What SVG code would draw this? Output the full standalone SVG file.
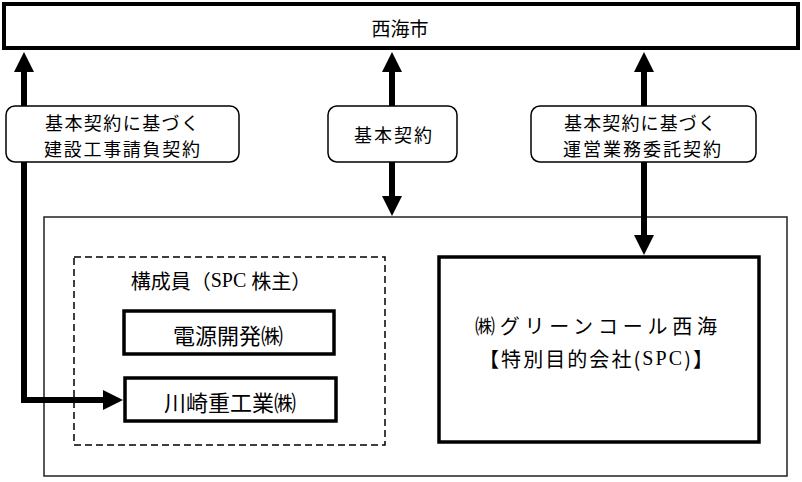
<svg xmlns="http://www.w3.org/2000/svg" width="802" height="482" viewBox="0 0 802 482">
<style>
text{font-family:"Noto Sans CJK JP",sans-serif;fill:#000;text-anchor:middle;dominant-baseline:central}
.thick{fill:#fff;stroke:#000;stroke-width:4}
.mid{fill:#fff;stroke:#000;stroke-width:3.5}
.label{fill:#fff;stroke:#000;stroke-width:1.5}
.conn{fill:none;stroke:#000;stroke-width:6;stroke-linejoin:miter}
.serif{font-family:"Liberation Serif",serif}
.lt{font-size:18px}
</style>
<defs>
<marker id="ah" viewBox="0 0 20 20" refX="0" refY="10" markerWidth="20" markerHeight="20" markerUnits="userSpaceOnUse" orient="auto-start-reverse">
<path d="M0,0 L20,10 L0,20 z" fill="#000"/>
</marker>
</defs>

<g id="outer">
<rect x="44" y="217" width="743" height="259" fill="#fff" stroke="#222" stroke-width="1.5"/>
</g>

<g id="connectors">
<path class="conn" d="M24,72 L24,400 L103,400" marker-start="url(#ah)" marker-end="url(#ah)"/>
<path class="conn" d="M392,72 L392,196" marker-start="url(#ah)" marker-end="url(#ah)"/>
<path class="conn" d="M644,72 L644,235" marker-start="url(#ah)" marker-end="url(#ah)"/>
</g>

<g id="saikai">
<rect class="thick" x="4" y="4" width="794" height="44"/>
<text x="400" y="27" font-size="19">西海市</text>
</g>

<g id="label-construction">
<rect class="label" x="6" y="106" width="233" height="56" rx="9"/>
<text class="lt" x="122" y="122" textLength="154">基本契約に基づく</text>
<text class="lt" x="122" y="148" textLength="156">建設工事請負契約</text>
</g>

<g id="label-basic">
<rect class="label" x="328" y="106" width="129" height="56" rx="9"/>
<text class="lt" x="393" y="134" textLength="78">基本契約</text>
</g>

<g id="label-operation">
<rect class="label" x="531" y="106" width="225" height="56" rx="9"/>
<text class="lt" x="640" y="122" textLength="152">基本契約に基づく</text>
<text class="lt" x="642" y="148" textLength="158">運営業務委託契約</text>
</g>

<g id="members">
<rect x="74" y="257" width="311" height="188" fill="none" stroke="#000" stroke-width="1.5" stroke-dasharray="7,4"/>
<text x="221" y="280" font-size="20">構成員（<tspan class="serif">SPC </tspan>株主）</text>
</g>

<g id="dengen">
<rect class="mid" x="124" y="311" width="210" height="43"/>
<text x="228" y="334" font-size="22">電源開発㈱</text>
</g>

<g id="kawasaki">
<rect class="mid" x="125" y="378" width="211" height="43"/>
<text x="230" y="401" font-size="22">川崎重工業㈱</text>
</g>

<g id="spc">
<rect class="mid" x="439" y="257" width="320" height="185"/>
<text x="596" y="325" font-size="20" textLength="242">㈱グリーンコール西海</text>
<text x="596" y="358" font-size="20" textLength="234">【特別目的会社(<tspan class="serif">SPC</tspan>)】</text>
</g>
</svg>
